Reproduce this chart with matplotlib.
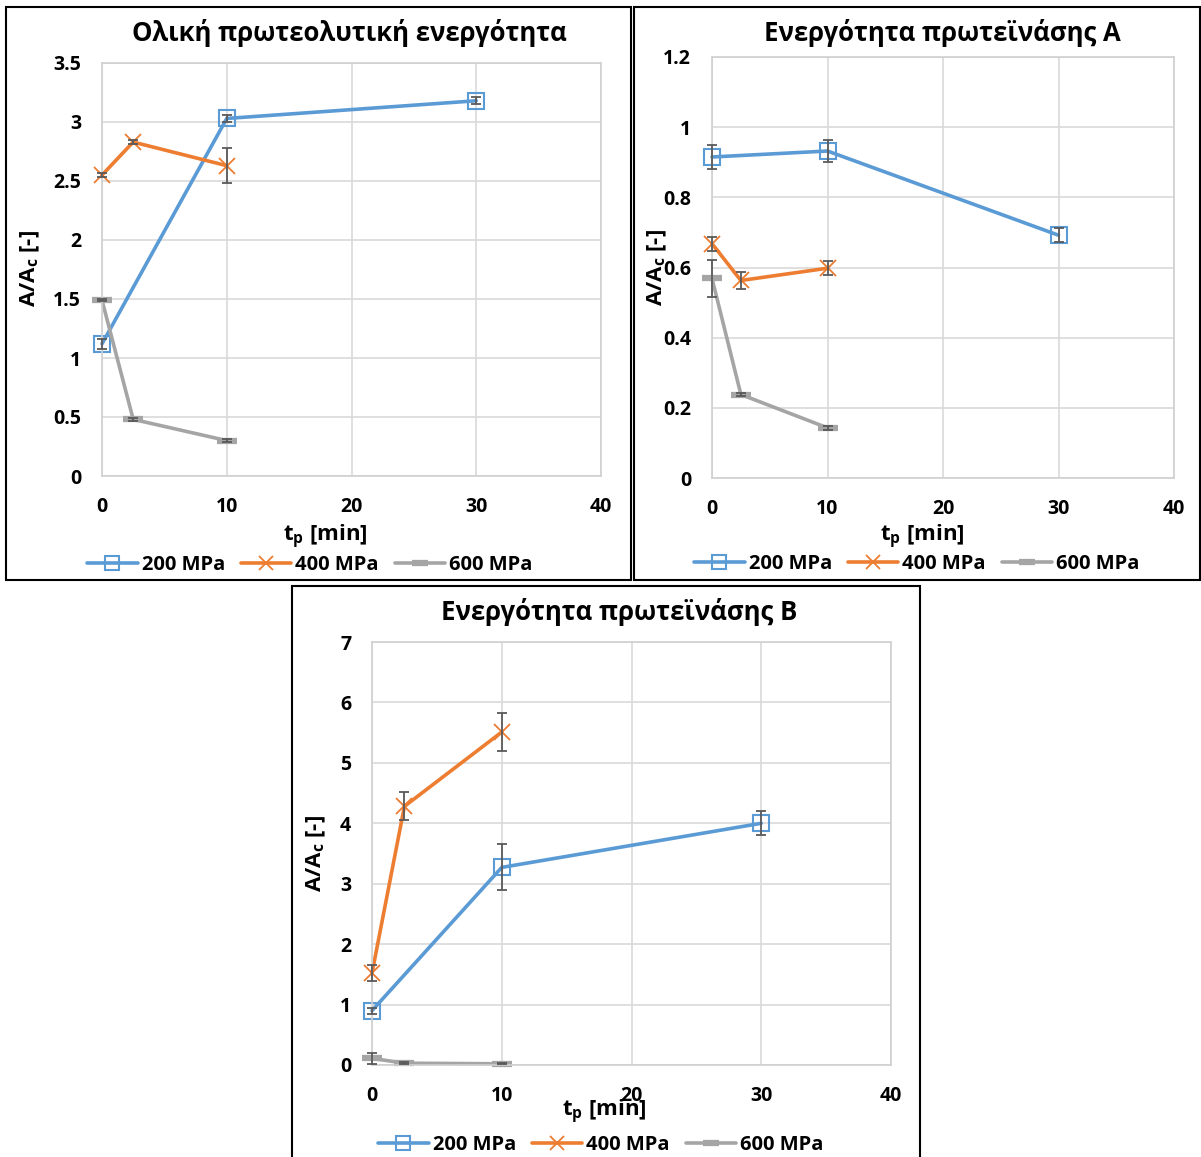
import numpy as np
import matplotlib
matplotlib.use("Agg")
from matplotlib import pyplot as plt
from matplotlib.patches import Rectangle

plt.rcParams['font.family'] = ['Open Sans', 'DejaVu Sans']
plt.rcParams['font.weight'] = 'bold'
plt.rcParams['mathtext.fontset'] = 'custom'
plt.rcParams['mathtext.rm'] = 'Open Sans:bold'
plt.rcParams['mathtext.bf'] = 'Open Sans:bold'
plt.rcParams['mathtext.it'] = 'Open Sans:bold'

# pressure series and hold times (min)
labels = ['200 MPa', '400 MPa', '600 MPa']
t_200 = [0, 10, 30]
t_400 = [0, 2.5, 10]
t_600 = [0, 2.5, 10]

# total proteolytic activity, A/Ac
tot_200 = [1.12, 3.03, 3.18]
tot_200_err = [0.04, 0.03, 0.03]
tot_400 = [2.55, 2.83, 2.63]
tot_400_err = [0.02, 0.02, 0.15]
tot_600 = [1.49, 0.48, 0.30]
tot_600_err = [0.01, 0.01, 0.01]

# proteinase A activity
pa_200 = [0.915, 0.932, 0.692]
pa_200_err = [0.033, 0.030, 0.020]
pa_400 = [0.668, 0.563, 0.598]
pa_400_err = [0.020, 0.025, 0.020]
pa_600 = [0.569, 0.238, 0.143]
pa_600_err = [0.053, 0.005, 0.005]

# proteinase B activity
pb_200 = [0.90, 3.27, 4.00]
pb_200_err = [0.05, 0.38, 0.20]
pb_400 = [1.52, 4.28, 5.51]
pb_400_err = [0.13, 0.23, 0.31]
pb_600 = [0.11, 0.03, 0.02]
pb_600_err = [0.09, 0.02, 0.01]

titles = ['Ολική πρωτεολυτική ενεργότητα',
          'Ενεργότητα πρωτεϊνάσης Α',
          'Ενεργότητα πρωτεϊνάσης Β']

blue = '#5B9BD5'
orange = '#ED7D31'
grey = '#A5A5A5'
errc = '#595959'

W, H = 1201, 1157
fig = plt.figure(figsize=(W/100, H/100), dpi=100)

def fx(px):
    return px / W

def fy(py):
    return 1 - py / H

def panel(box, frame, ylim, yticks, series, title, title_xy, xlab_xy, ylab_xy, leg_xy):
    l, r, t, b = box
    ax = fig.add_axes([fx(l), fy(b), fx(r - l), (b - t)/H])
    fl, fr, ft, fb = frame
    fig.patches.append(Rectangle((fx(fl), fy(fb)), fx(fr - fl), (fb - ft)/H,
                                 transform=fig.transFigure, fill=False,
                                 edgecolor='black', lw=1.5))
    styles = [dict(color=blue, marker='s', ms=12, mfc='none', mec=blue, mew=1.5),
              dict(color=orange, marker='x', ms=12, mec=orange, mew=1.3),
              dict(color=grey, marker='_', ms=15, mec=grey, mew=4.5)]
    handles = []
    for (tx, y, e), st in zip(series, styles):
        ax.errorbar(tx, y, yerr=e, fmt='none', ecolor=errc, elinewidth=1.3,
                    capsize=3.5, capthick=1.3, zorder=3, clip_on=False)
        ln, = ax.plot(tx, y, lw=2.6, solid_capstyle='round', zorder=2,
                      clip_on=False, **st)
        handles.append(ln)
    ax.set_xlim(0, 40)
    ax.set_ylim(*ylim)
    ax.set_xticks([0, 10, 20, 30, 40])
    ax.set_yticks(yticks)
    ax.set_yticklabels([f'{v:g}' for v in yticks])
    ax.grid(True, color='#D9D9D9', lw=1.2)
    ax.set_axisbelow(True)
    for s in ax.spines.values():
        s.set_color('#D0D0D0')
        s.set_linewidth(1.2)
    ax.tick_params(length=0, labelsize=14)
    ax.tick_params(axis='y', pad=15)
    ax.tick_params(axis='x', pad=15)
    for lab in ax.get_xticklabels() + ax.get_yticklabels():
        lab.set_fontweight('bold')
    fig.text(fx(title_xy[0]), fy(title_xy[1]), title, fontsize=18.5,
             fontweight='bold', ha='center', va='center')
    fig.text(fx(xlab_xy[0]), fy(xlab_xy[1]), r'$\mathbf{t_p}$ [min]', fontsize=16,
             fontweight='bold', ha='center', va='center')
    fig.text(fx(ylab_xy[0]), fy(ylab_xy[1]), r'$\mathbf{A/A_c}$ [-]', fontsize=16,
             fontweight='bold', ha='center', va='center', rotation=90)
    fig.legend(handles, labels, loc='center', bbox_to_anchor=(fx(leg_xy[0]), fy(leg_xy[1])),
               ncol=3, frameon=False, fontsize=14.5, handlelength=2.5,
               handletextpad=0.2, columnspacing=0.8, borderpad=0, markerscale=0.8)
    return ax

panel((102, 601, 63, 476), (6, 631, 7, 580), (0, 3.5),
      [0, 0.5, 1, 1.5, 2, 2.5, 3, 3.5],
      [(t_200, tot_200, tot_200_err), (t_400, tot_400, tot_400_err), (t_600, tot_600, tot_600_err)],
      titles[0], (349, 33), (325, 537), (30, 269), (310, 565))

panel((712, 1174, 57, 478), (634, 1200, 7, 580), (0, 1.2),
      [0, 0.2, 0.4, 0.6, 0.8, 1.0, 1.2],
      [(t_200, pa_200, pa_200_err), (t_400, pa_400, pa_400_err), (t_600, pa_600, pa_600_err)],
      titles[1], (942, 33), (922, 537), (657, 268), (917, 564))

panel((372, 891, 642, 1065), (292, 920, 586, 1160), (0, 7),
      [0, 1, 2, 3, 4, 5, 6, 7],
      [(t_200, pb_200, pb_200_err), (t_400, pb_400, pb_400_err), (t_600, pb_600, pb_600_err)],
      titles[2], (619, 612), (604, 1112), (316, 854), (601, 1145))

fig.savefig('out.png', dpi=100)
